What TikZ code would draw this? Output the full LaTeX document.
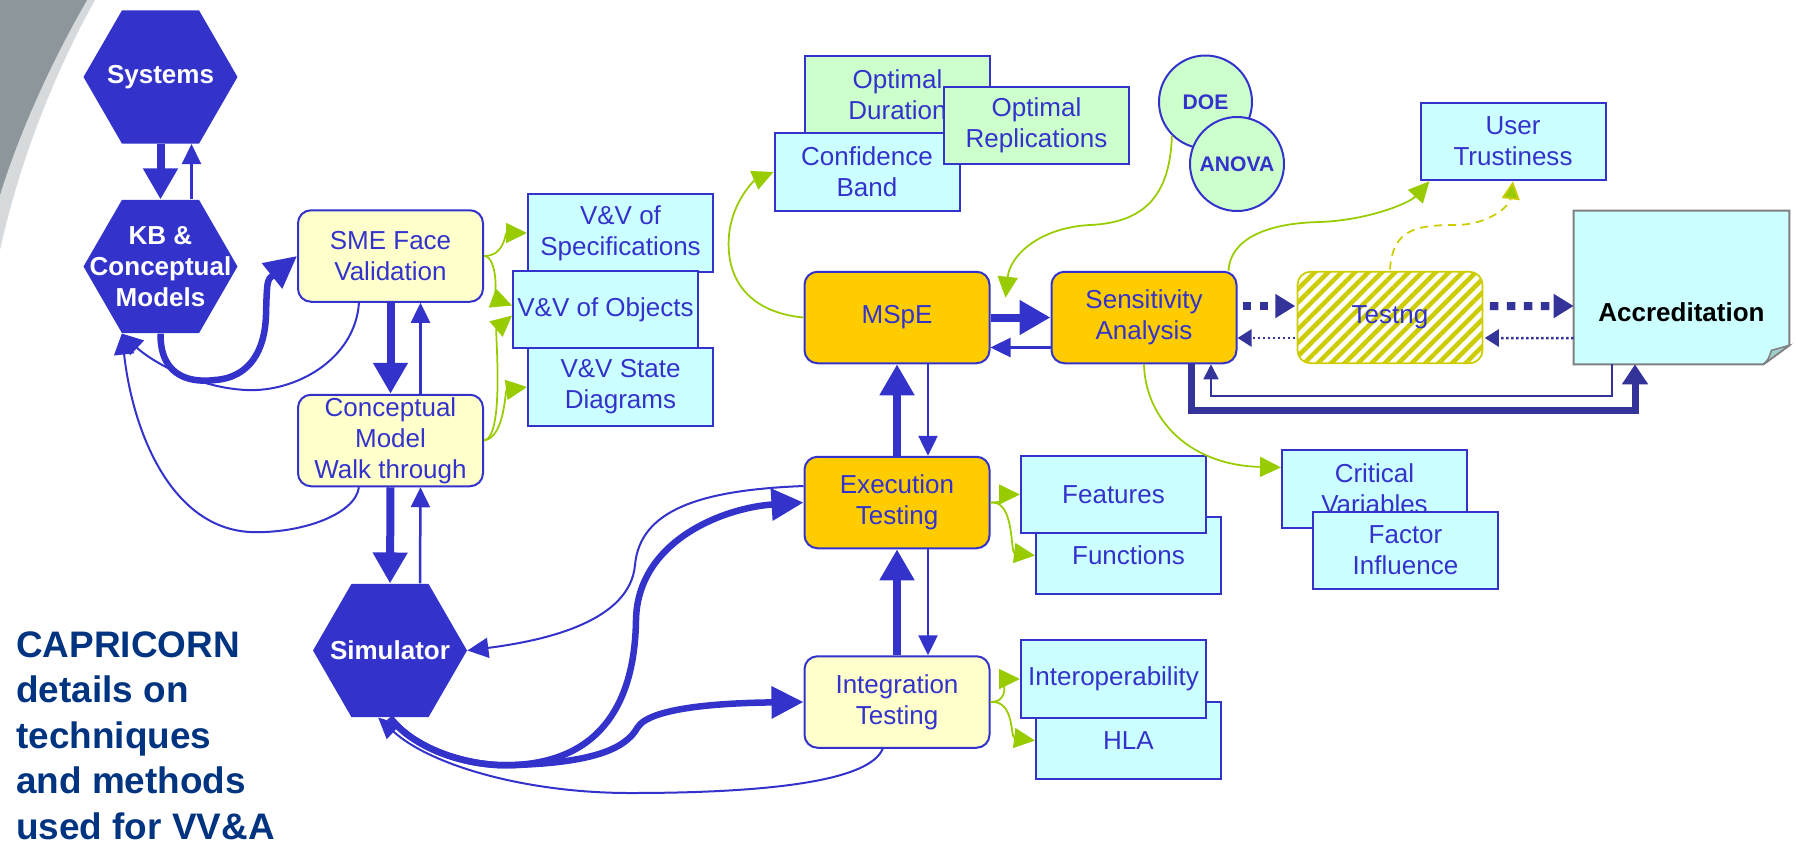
\documentclass[tikz,border=0pt]{standalone}
\usepackage{fontspec}
\setmainfont{Liberation Sans}
\usepackage{xcolor}
\usepackage{tikz}
\usetikzlibrary{
    shapes.geometric,
    arrows.meta,
    calc,
    patterns.meta
}

\definecolor{vvblue}{RGB}{51,51,204}
\definecolor{vvnavy}{RGB}{51,51,153}
\definecolor{vvyellow}{RGB}{255,255,204}
\definecolor{vvcyan}{RGB}{204,255,255}
\definecolor{vvgreen}{RGB}{204,255,204}
\definecolor{vvgold}{RGB}{255,204,0}
\definecolor{vvlime}{RGB}{153,204,0}
\definecolor{vvolive}{RGB}{204,204,0}
\definecolor{vvtitle}{RGB}{0,51,128}
\definecolor{vvswoosh}{RGB}{140,150,155}
\definecolor{vvfold}{RGB}{160,204,204}

\begin{document}
\begin{tikzpicture}[font=\fontsize{14.8}{17.6}\selectfont,
    hexa/.style={regular polygon, regular polygon sides=6, minimum size=3.08cm,
                 inner sep=0pt, fill=vvblue},
    hexlab/.style={text=white, align=center, font=\fontsize{14.8}{17.6}\selectfont\bfseries},
    rbox/.style={draw=vvblue, line width=0.04cm, rounded corners=0.26cm,
                 minimum width=3.7cm, minimum height=1.83cm, inner sep=1pt,
                 align=center, text=vvblue},
    cbox/.style={draw=vvblue, line width=0.04cm, fill=vvcyan, minimum width=3.7cm,
                 minimum height=1.55cm, inner sep=1pt, align=center, text=vvblue},
    gbox/.style={cbox, fill=vvgreen},
    ball/.style={circle, draw=vvblue, line width=0.04cm, fill=vvgreen, inner sep=0pt,
                 text=vvblue, font=\fontsize{12}{14}\selectfont\bfseries},
    fat/.style={-{Triangle[width=0.66cm,length=0.62cm]}, line width=0.16cm, draw=vvblue},
    slim/.style={-{Triangle[width=0.38cm,length=0.4cm]}, line width=0.05cm, draw=vvblue},
    fatcurve/.style={-{Triangle[width=0.62cm,length=0.64cm]}, line width=0.13cm, draw=vvblue},
    slimcurve/.style={-{Triangle[width=0.4cm,length=0.42cm]}, line width=0.04cm, draw=vvblue},
    garr/.style={-{Triangle[width=0.4cm,length=0.42cm]}, line width=0.035cm, draw=vvlime},
    gdash/.style={-{Triangle[width=0.36cm,length=0.36cm,fill=vvlime]}, line width=0.035cm,
                  draw=vvolive, dash pattern=on 0.16cm off 0.12cm},
    dotfat/.style={-{Triangle[width=0.46cm,length=0.4cm]}, line width=0.16cm, draw=vvnavy,
                   dash pattern=on 0.17cm off 0.17cm},
    dotslim/.style={-{Triangle[width=0.34cm,length=0.28cm]}, line width=0.05cm, draw=vvnavy,
                    dash pattern=on 0.05cm off 0.05cm}]

    \useasboundingbox (0,0) rectangle (35.96,-16.96);

    % Corner swoosh
    \fill[vvswoosh!35] (0,0) -- (1.9,0) .. controls (1.15,-1.35) and (0.42,-3.1) .. (0,-5.0) -- cycle;
    \fill[vvswoosh] (0,0) -- (1.74,0) .. controls (1.05,-1.2) and (0.4,-2.6) .. (0,-3.9) -- cycle;

    % Systems, knowledge base and simulator
    \node[hexa, label={[hexlab]center:Systems}] (SYS) at (3.21,-1.54) {};
    \node[hexa, label={[hexlab]center:KB \&\\Conceptual\\Models}] (KB) at (3.21,-5.33) {};
    \node[hexa, label={[hexlab]center:Simulator}] (SIM) at (7.8,-13.01) {};

    % Face validation and walk through
    \node[rbox, fill=vvyellow] (SME) at (7.81,-5.12) {SME Face\\Validation};
    \node[rbox, fill=vvyellow] (CMW) at (7.81,-8.81) {Conceptual\\Model\\Walk through};

    % V&V techniques
    \node[cbox] (VVS) at (12.41,-4.66) {V\&V of\\Specifications};
    \node[cbox] (VVD) at (12.41,-7.74) {V\&V State\\Diagrams};
    \node[cbox] (VVO) at (12.11,-6.19) {V\&V of Objects};

    % Run length and statistics
    \node[gbox] (OPD) at (17.95,-1.89) {Optimal\\Duration};
    \node[cbox] (CB) at (17.34,-3.44) {Confidence\\Band};
    \node[gbox] (OPR) at (20.73,-2.51) {Optimal\\Replications};
    \node[ball, minimum size=1.86cm] (DOE) at (24.11,-2.04) {DOE};
    \node[ball, minimum size=1.88cm] (ANOVA) at (24.74,-3.28) {ANOVA};

    % Main chain
    \node[rbox, fill=vvgold] (MSPE) at (17.94,-6.35) {MSpE};
    \node[rbox, fill=vvgold] (SENS) at (22.88,-6.35) {Sensitivity\\Analysis};
    \node[rbox, draw=vvolive, line width=0.035cm,
          pattern={Lines[angle=45,distance=0.19cm,line width=0.09cm]},
          pattern color=vvolive] (TST) at (27.8,-6.35) {Testng};
    \node[rbox, fill=vvgold] (EXE) at (17.94,-10.05) {Execution\\Testing};
    \node[rbox, fill=vvyellow] (INT) at (17.94,-14.04) {Integration\\Testing};

    % Accreditation sheet with folded corner
    \node[fill=vvcyan, minimum width=4.3cm, minimum height=3.06cm,
          label={[font=\fontsize{14.8}{17.6}\selectfont\bfseries, yshift=-0.5cm]center:Accreditation}]
          (ACC) at (33.63,-5.75) {};
    \fill[white] ($(ACC.south east)+(-0.52,0)$) -- (ACC.south east) -- ($(ACC.south east)+(0,0.38)$) -- cycle;
    \draw[gray, line width=0.04cm] (ACC.north west) -- (ACC.north east) -- ($(ACC.south east)+(0,0.38)$)
      -- ($(ACC.south east)+(-0.52,0)$) -- (ACC.south west) -- cycle;
    \filldraw[fill=vvfold, draw=gray, line width=0.03cm] ($(ACC.south east)+(-0.52,0)$)
      .. controls ($(ACC.south east)+(-0.42,0.1)$) .. ($(ACC.south east)+(-0.36,0.28)$)
      -- ($(ACC.south east)+(0,0.38)$) -- cycle;

    \node[cbox] (UT) at (30.26,-2.83) {User\\Trustiness};

    % Outcome boxes
    \node[cbox] (FUNC) at (22.57,-11.11) {Functions};
    \node[cbox] (FEAT) at (22.27,-9.89) {Features};
    \node[cbox] (HLA) at (22.57,-14.81) {HLA};
    \node[cbox] (IOP) at (22.27,-13.58) {Interoperability};
    \node[cbox] (CV) at (27.49,-9.78) {Critical\\Variables};
    \node[cbox] (FI) at (28.11,-11.01) {Factor\\Influence};

    % Title
    \node[anchor=north west, inner sep=0pt, align=left, text=vvtitle,
          font=\fontsize{21}{25.9}\selectfont\bfseries] (TTL) at (0.32,-12.62)
      {CAPRICORN\\details on\\techniques\\and methods\\used for VV\&A};

    % Systems <-> KB <-> SME
    \draw[fat] (SYS.-90) to (KB.90);
    \draw[slim] ($(KB.90)+(0.62,0)$) to ($(SYS.-90)+(0.62,0)$);
    \draw[fatcurve] (KB.-90) .. controls (3.2,-7.6) and (3.9,-7.65) .. (4.3,-7.6)
      .. controls (5.0,-7.55) and (5.3,-7.0) .. (5.32,-6.3) .. controls (5.34,-5.6) .. (SME.west);
    \draw[slimcurve] (SME.-124) .. controls (7.1,-7.2) and (5.9,-7.85) .. (4.92,-7.8)
      .. controls (3.9,-7.75) and (3.0,-7.2) .. (KB.-120);
    \draw[slimcurve] (CMW.-124) .. controls (7.1,-10.3) and (6.0,-10.68) .. (5.0,-10.64)
      .. controls (3.4,-10.55) and (2.65,-8.6) .. (KB.-120);

    % Validation column
    \draw[fat] (SME.south) to (CMW.north);
    \draw[slim] ($(CMW.north)+(0.6,0)$) to ($(SME.south)+(0.6,0)$);
    \draw[fat] (CMW.south) to (SIM.90);
    \draw[slim] ($(SIM.90)+(0.6,0)$) to ($(CMW.south)+(0.6,0)$);

    \draw[garr] (SME.east) .. controls (10.1,-5.12) and (10.1,-4.66) .. (VVS.west);
    \draw[garr] (SME.east) .. controls (9.95,-5.12) and (9.95,-6.0) .. ($(VVO.west)+(0,0.08)$);
    \draw[garr] (CMW.east) .. controls (10.1,-8.75) and (9.9,-6.6) .. ($(VVO.west)+(0,-0.12)$);
    \draw[garr] (CMW.east) .. controls (10.1,-8.75) and (10.1,-7.8) .. (VVD.west);

    % MSpE, sensitivity, testing, accreditation
    \draw[fat] (MSPE.east) to (SENS.west);
    \draw[slim] ($(SENS.west)+(0,-0.6)$) to ($(MSPE.east)+(0,-0.6)$);
    \draw[fat] (EXE.north) to (MSPE.south);
    \draw[slim] ($(MSPE.south)+(0.62,0)$) to ($(EXE.north)+(0.62,0)$);
    \draw[fat] (INT.north) to (EXE.south);
    \draw[slim] ($(EXE.south)+(0.62,0)$) to ($(INT.north)+(0.62,0)$);

    \draw[dotfat] ($(SENS.east)+(0.1,0.23)$) to ($(TST.west)+(0,0.23)$);
    \draw[dotfat] ($(TST.east)+(0.1,0.23)$) to ($(ACC.west)+(0,-0.37)$);
    \draw[dotslim] ($(ACC.west)+(0,-1.01)$) to ($(TST.east)+(0,-0.41)$);
    \draw[dotslim] ($(TST.west)+(0,-0.41)$) to ($(SENS.east)+(0,-0.41)$);

    \draw[-{Triangle[width=0.5cm,length=0.4cm]}, line width=0.14cm, draw=vvnavy]
      ($(SENS.south)+(0.94,0)$) -- ++(0,-0.92) -| ($(ACC.south)+(-0.93,0)$);
    \draw[-{Triangle[width=0.3cm,length=0.3cm]}, line width=0.035cm, draw=vvnavy]
      ($(ACC.south)+(-1.39,0)$) -- ++(0,-0.64) -| ($(SENS.south)+(1.34,0)$);

    \draw[garr] (MSPE.west) .. controls (15.0,-6.25) and (14.5,-5.6) .. (14.58,-4.7)
      .. controls (14.65,-4.0) and (15.1,-3.6) .. (CB.west);
    \draw[garr] (DOE.-135) .. controls (23.4,-3.9) and (22.9,-4.45) .. (21.8,-4.5)
      .. controls (20.8,-4.55) and (20.2,-5.1) .. ($(MSPE.north east)+(0.3,-0.54)$);
    \draw[garr] (SENS.south) .. controls (22.9,-8.3) and (23.7,-9.3) .. (CV.167);
    \draw[garr] ($(SENS.north east)+(-0.18,0)$) .. controls (24.6,-4.8) and (25.3,-4.46) .. (26.4,-4.44)
      .. controls (27.4,-4.4) and (28.2,-4.05) .. ($(UT.south west)+(0.2,0)$);
    \draw[gdash] (TST.north) .. controls (27.85,-4.6) and (28.3,-4.5) .. (29.1,-4.5)
      .. controls (29.8,-4.5) and (30.2,-4.1) .. (UT.south);

    % Simulator loops
    \draw[slimcurve] (EXE.170) .. controls (14.0,-9.8) and (12.8,-10.2) .. (12.7,-11.3)
      .. controls (12.6,-12.4) and (11.0,-12.8) .. (SIM.0);
    \draw[fatcurve] (SIM.-90) .. controls (8.3,-15.0) and (9.4,-15.35) .. (10.3,-15.3)
      .. controls (12.2,-15.2) and (12.7,-13.8) .. (12.72,-12.4)
      .. controls (12.75,-10.8) and (14.5,-10.15) .. (EXE.west);
    \draw[fatcurve] (SIM.-90) .. controls (8.3,-15.0) and (9.4,-15.35) .. (10.3,-15.3)
      .. controls (11.8,-15.25) and (12.5,-15.0) .. (12.75,-14.55)
      .. controls (13.0,-14.15) and (14.4,-14.06) .. (INT.west);
    \draw[slimcurve] (INT.-107) .. controls (17.4,-15.6) and (15.5,-15.86) .. (12.6,-15.86)
      .. controls (10.5,-15.86) and (8.6,-15.3) .. (SIM.-100);

    % Execution and integration outcomes
    \draw[garr] (EXE.east) .. controls (20.2,-10.05) and (20.1,-9.89) .. (FEAT.west);
    \draw[garr] (EXE.east) .. controls (20.3,-10.0) and (20.2,-11.05) .. (FUNC.west);
    \draw[garr] (INT.east) .. controls (20.2,-14.04) and (20.1,-13.58) .. (IOP.west);
    \draw[garr] (INT.east) .. controls (20.3,-14.0) and (20.2,-14.75) .. (HLA.west);

\end{tikzpicture}
\end{document}
